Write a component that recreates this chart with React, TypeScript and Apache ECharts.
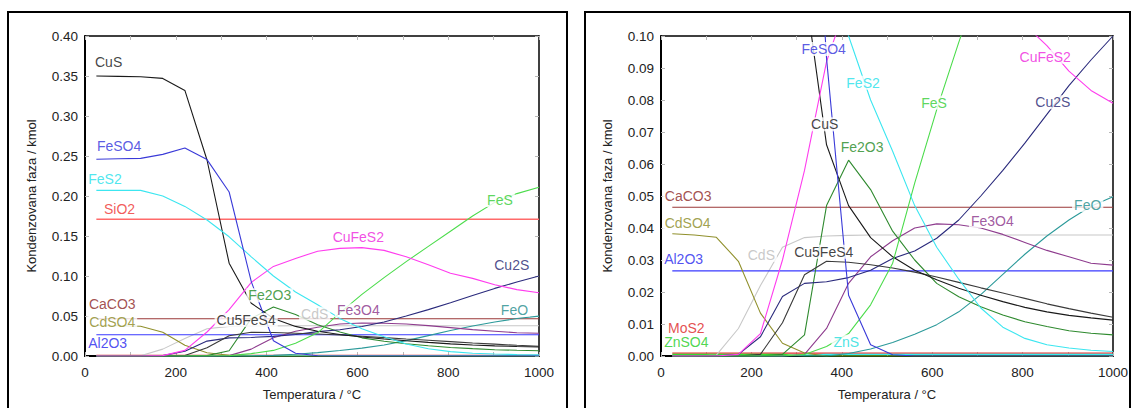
import React, { useEffect, useRef } from "react";
import * as echarts from "echarts";

// Temperature grid (°C)
const temps = [25, 73.75, 122.5, 171.25, 220, 268.75, 317.5, 366.25, 415, 463.75, 512.5, 561.25, 610, 658.75, 707.5, 756.25, 805, 853.75, 902.5, 951.25, 1000];

// Condensed phases (kmol)
const CuS = [0.35, 0.3495, 0.349, 0.347, 0.332, 0.245, 0.116, 0.066, 0.047, 0.037, 0.031, 0.0268, 0.0238, 0.0212, 0.019, 0.017, 0.0152, 0.0138, 0.0127, 0.0119, 0.0112];
const FeSO4 = [0.246, 0.2465, 0.247, 0.252, 0.26, 0.2455, 0.205, 0.093, 0.019, 0.0035, 0.0004, 0, 0, 0, 0, 0, 0, 0, 0, 0, 0];
const FeS2 = [0.207, 0.207, 0.207, 0.2, 0.187, 0.17, 0.149, 0.124, 0.1, 0.08, 0.064, 0.047, 0.034, 0.024, 0.015, 0.009, 0.0055, 0.0035, 0.0025, 0.0018, 0.0014];
const SiO2 = [0.171, 0.171, 0.171, 0.171, 0.171, 0.171, 0.171, 0.171, 0.171, 0.171, 0.171, 0.171, 0.171, 0.171, 0.171, 0.171, 0.171, 0.171, 0.171, 0.171, 0.171];
const CuFeS2 = [0, 0, 0, 0.0005, 0.007, 0.03, 0.058, 0.092, 0.112, 0.122, 0.131, 0.1345, 0.1355, 0.132, 0.124, 0.114, 0.1035, 0.097, 0.089, 0.083, 0.079];
const FeS = [0, 0, 0, 0, 0, 0, 0.0005, 0.003, 0.007, 0.016, 0.029, 0.054, 0.077, 0.098, 0.118, 0.137, 0.156, 0.175, 0.192, 0.203, 0.211];
const Cu2S = [0, 0, 0, 0.0005, 0.006, 0.0186, 0.0227, 0.0232, 0.0245, 0.0268, 0.0305, 0.0328, 0.0368, 0.0425, 0.05, 0.058, 0.0665, 0.0755, 0.0845, 0.0925, 0.1];
const Fe2O3 = [0, 0, 0, 0, 0, 0.0005, 0.0066, 0.047, 0.0612, 0.052, 0.039, 0.03, 0.0227, 0.0185, 0.0154, 0.0128, 0.0107, 0.0092, 0.0079, 0.0071, 0.0066];
const CaCO3 = [0.0465, 0.0465, 0.0465, 0.0465, 0.0465, 0.0465, 0.0465, 0.0465, 0.0465, 0.0465, 0.0465, 0.0465, 0.0465, 0.0465, 0.0465, 0.0465, 0.0465, 0.0465, 0.0465, 0.0465, 0.0465];
const CdSO4 = [0.0382, 0.0378, 0.0371, 0.0296, 0.0134, 0.004, 0.0009, 0, 0, 0, 0, 0, 0, 0, 0, 0, 0, 0, 0, 0, 0];
const Cu5FeS4 = [0, 0, 0, 0, 0.0005, 0.0104, 0.0254, 0.0296, 0.0293, 0.0285, 0.0275, 0.0262, 0.0247, 0.023, 0.0213, 0.0197, 0.018, 0.0163, 0.0148, 0.0134, 0.0121];
const CdS = [0, 0, 0.0003, 0.0086, 0.022, 0.034, 0.037, 0.0375, 0.0377, 0.0378, 0.0378, 0.0378, 0.0378, 0.0378, 0.0378, 0.0378, 0.0378, 0.0378, 0.0378, 0.0378, 0.0378];
const Fe3O4 = [0, 0, 0, 0, 0, 0, 0.0005, 0.0086, 0.0227, 0.031, 0.036, 0.04, 0.0413, 0.041, 0.04, 0.038, 0.0355, 0.033, 0.031, 0.029, 0.0284];
const FeO = [0, 0, 0, 0, 0, 0, 0, 0, 0.0008, 0.0022, 0.0042, 0.0068, 0.0098, 0.0138, 0.0192, 0.0255, 0.0318, 0.0375, 0.0425, 0.0468, 0.0498];
const Al2O3 = [0.0266, 0.0266, 0.0266, 0.0266, 0.0266, 0.0266, 0.0266, 0.0266, 0.0266, 0.0266, 0.0266, 0.0266, 0.0266, 0.0266, 0.0266, 0.0266, 0.0266, 0.0266, 0.0266, 0.0266, 0.0266];
const MoS2 = [0.0009, 0.0009, 0.0009, 0.0009, 0.0009, 0.0009, 0.0009, 0.0009, 0.0009, 0.0009, 0.0009, 0.0009, 0.0009, 0.0009, 0.0009, 0.0009, 0.0009, 0.0009, 0.0009, 0.0009, 0.0009];
const ZnSO4 = [0.0005, 0.0005, 0.0005, 0.0005, 0.0005, 0.0005, 0, 0, 0, 0, 0, 0, 0, 0, 0, 0, 0, 0, 0, 0, 0];
const ZnS = [0, 0, 0, 0, 0, 0, 0.0003, 0.0005, 0.0005, 0.0005, 0.0005, 0.0005, 0.0005, 0.0005, 0.0005, 0.0005, 0.0005, 0.0005, 0.0005, 0.0005, 0.0005];

const phaseNames = ["MoS2", "ZnSO4", "ZnS", "CdS", "SiO2", "CaCO3", "Al2O3", "CdSO4", "FeO", "Fe3O4", "Fe2O3", "Cu2S", "Cu5FeS4", "CuS", "FeS", "CuFeS2", "FeS2", "FeSO4"];
const phaseValues = [MoS2, ZnSO4, ZnS, CdS, SiO2, CaCO3, Al2O3, CdSO4, FeO, Fe3O4, Fe2O3, Cu2S, Cu5FeS4, CuS, FeS, CuFeS2, FeS2, FeSO4];
const lineColors: Record<string, string> = {
  CuS: "#1a1a1a", FeSO4: "#3a3ad8", FeS2: "#3ce6f0", SiO2: "#ff6a6a", CuFeS2: "#ff3cee",
  FeS: "#4cdc4c", Cu2S: "#2a2a7c", Fe2O3: "#2f8a2f", CaCO3: "#9a3838", CdSO4: "#90902c",
  Cu5FeS4: "#3a3a3a", CdS: "#c8c8c8", Fe3O4: "#8e3c8e", FeO: "#2c9a9a", Al2O3: "#3a3aff",
  MoS2: "#e03030", ZnSO4: "#33dd33", ZnS: "#33eeee",
};
const labelColors: Record<string, string> = {
  CuS: "#111111", FeSO4: "#3030dc", FeS2: "#22dfea", SiO2: "#ee3030", CuFeS2: "#ee22dd",
  FeS: "#33cc33", Cu2S: "#232370", Fe2O3: "#228822", CaCO3: "#8b2424", CdSO4: "#8a8a1e",
  Cu5FeS4: "#111111", CdS: "#bbbbbb", Fe3O4: "#883088", FeO: "#1f8c8c", Al2O3: "#2424ee",
  MoS2: "#dd2222", ZnSO4: "#22cc22", ZnS: "#22dddd",
};

// Inline labels: [name, temperature, amount]
const leftLabels: [string, number, number][] = [
  ["CuS", 52, 0.368], ["FeSO4", 75, 0.263], ["FeS2", 44, 0.221], ["SiO2", 76, 0.184],
  ["CuFeS2", 602, 0.149], ["FeS", 914, 0.195], ["Cu2S", 940, 0.114], ["Fe2O3", 407, 0.076],
  ["CaCO3", 60, 0.065], ["CdSO4", 60, 0.043], ["Cu5FeS4", 355, 0.045], ["CdS", 506, 0.053],
  ["Fe3O4", 602, 0.057], ["FeO", 946, 0.058], ["Al2O3", 50, 0.016],
];
const rightLabels: [string, number, number][] = [
  ["FeSO4", 360, 0.0959], ["CuFeS2", 850, 0.0935], ["FeS2", 447, 0.0854], ["FeS", 604, 0.0792],
  ["Cu2S", 867, 0.0793], ["CuS", 362, 0.0724], ["Fe2O3", 445, 0.0654], ["CaCO3", 60, 0.0501],
  ["FeO", 944, 0.0472], ["CdSO4", 59, 0.0417], ["Fe3O4", 733, 0.0422], ["CdS", 222, 0.0316],
  ["Cu5FeS4", 360, 0.0326], ["Al2O3", 50, 0.0302], ["MoS2", 56, 0.0089], ["ZnSO4", 56, 0.0043],
  ["ZnS", 410, 0.0045],
];

const xTicks = { min: 0, max: 1000, interval: 100 };
const yLeftTicks = { min: 0, max: 0.4, interval: 0.05 };
const yRightTicks = { min: 0, max: 0.1, interval: 0.01 };

const FONT = "'Liberation Sans', Arial, sans-serif";

export default function App() {
  const ref = useRef<HTMLDivElement>(null);
  useEffect(() => {
    if (!ref.current) return;
    const chart = echarts.init(ref.current, null, { renderer: "svg" });

    const tickStyle = { show: true, inside: true, length: 4, lineStyle: { color: "#b8b8b8", width: 1 } };
    const mkX = (gridIndex: number, pos: "bottom" | "top") => ({
      type: "value", gridIndex, position: pos, ...xTicks,
      name: pos === "bottom" ? "Temperatura / °C" : "",
      nameLocation: "middle", nameGap: 32,
      nameTextStyle: { fontFamily: FONT, fontSize: 13, color: "#222" },
      axisLine: { show: true, onZero: false, lineStyle: { color: "#000", width: pos === "bottom" ? 2 : 1.5 } },
      axisTick: tickStyle,
      axisLabel: {
        show: pos === "bottom", margin: 9, fontFamily: FONT, fontSize: 13.5, color: "#222",
        formatter: (v: number) => (v % 200 === 0 ? String(v) : ""),
      },
      splitLine: { show: false },
    });
    const mkY = (gridIndex: number, pos: "left" | "right", t: any) => ({
      type: "value", gridIndex, position: pos, ...t,
      name: pos === "left" ? "Kondenzovana faza / kmol" : "",
      nameLocation: "middle", nameGap: 47,
      nameTextStyle: { fontFamily: FONT, fontSize: 13, color: "#222" },
      axisLine: { show: true, onZero: false, lineStyle: { color: "#000", width: pos === "left" ? 2 : 1.5 } },
      axisTick: tickStyle,
      axisLabel: {
        show: pos === "left", margin: 7, fontFamily: FONT, fontSize: 13.5, color: "#222",
        formatter: (v: number) => v.toFixed(2),
      },
      splitLine: { show: false },
    });

    const series: any[] = [];
    [0, 1].forEach((gi) => {
      phaseNames.forEach((name, i) => {
        series.push({
          type: "line", xAxisIndex: gi, yAxisIndex: gi, name,
          data: temps.map((t, k) => [t, phaseValues[i][k]]),
          showSymbol: false, symbol: "none", clip: true, z: 2,
          lineStyle: { color: lineColors[name], width: name === "SiO2" ? 1.6 : 1.1 },
          emphasis: { disabled: true },
        });
      });
      const labs = gi === 0 ? leftLabels : rightLabels;
      series.push({
        type: "scatter", xAxisIndex: gi, yAxisIndex: gi, z: 10, silent: true,
        symbol: "circle", symbolSize: 1, itemStyle: { color: "rgba(255,255,255,0)" },
        data: labs.map(([name, t, v]) => ({
          name, value: [t, v],
          label: { color: labelColors[name] },
        })),
        label: {
          show: true, position: "inside", formatter: "{b}",
          fontFamily: FONT, fontSize: 14, lineHeight: 14, backgroundColor: "#fff", padding: [0, 2],
        },
        labelLayout: { hideOverlap: false },
      });
    });

    chart.setOption({
      animation: false,
      backgroundColor: "#fff",
      grid: [
        { left: 85, top: 36, width: 454, height: 320, show: false },
        { left: 661, top: 36, width: 452, height: 320, show: false },
      ],
      xAxis: [mkX(0, "bottom"), mkX(1, "bottom"), mkX(0, "top"), mkX(1, "top")],
      yAxis: [mkY(0, "left", yLeftTicks), mkY(1, "left", yRightTicks), mkY(0, "right", yLeftTicks), mkY(1, "right", yRightTicks)],
      series,
      graphic: [
        { type: "rect", z: -1, shape: { x: 8, y: 12, width: 559, height: 420 }, style: { fill: "none", stroke: "#000", lineWidth: 2 }, silent: true },
        { type: "rect", z: -1, shape: { x: 585, y: 12, width: 545, height: 420 }, style: { fill: "none", stroke: "#000", lineWidth: 2 }, silent: true },
      ],
    });
    return () => chart.dispose();
  }, []);
  return <div ref={ref} style={{ position: "fixed", left: 0, top: 0, width: 1134, height: 408, background: "#fff" }} />;
}
